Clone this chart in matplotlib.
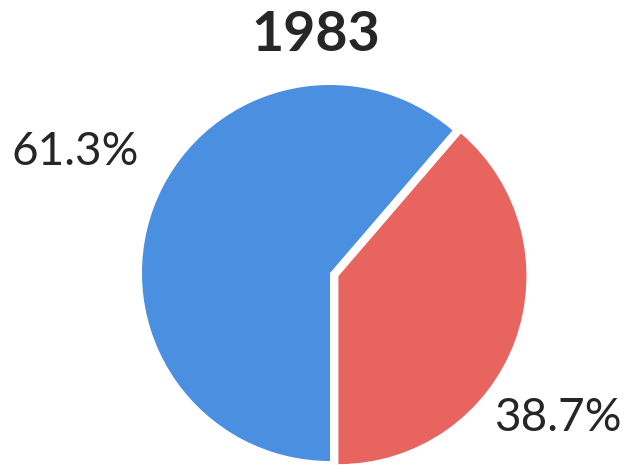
import matplotlib
matplotlib.use("Agg")
import matplotlib.pyplot as plt

year = "1983"
shares = [38.7, 61.3]
colors = ["#e8645f", "#4a8fe0"]
label_pos = [(558, 48), (75, 314)]   # pixel coords, y measured from bottom

plt.rcParams['font.family'] = ['Lato', 'DejaVu Sans']

fig = plt.figure(figsize=(6.32, 4.66), dpi=100)
ax = fig.add_axes([0, 0, 1, 1])
ax.set_xlim(0, 632)
ax.set_ylim(0, 466)
ax.set_aspect('equal')
ax.axis('off')

ax.pie(shares, colors=colors, startangle=-90, counterclock=True,
       explode=[9, 0], center=(330, 193), radius=188,
       wedgeprops=dict(linewidth=0), frame=True)
ax.set_xlim(0, 632)
ax.set_ylim(0, 466)
ax.axis('off')

for v, (x, y) in zip(shares, label_pos):
    ax.text(x, y, f"{v:.1f}%", fontsize=33, color="#262626",
            ha='center', va='center')

ax.text(316, 431, year, fontsize=40, fontweight='bold', color="#262626",
        ha='center', va='center')

fig.savefig("out.png", dpi=100)
